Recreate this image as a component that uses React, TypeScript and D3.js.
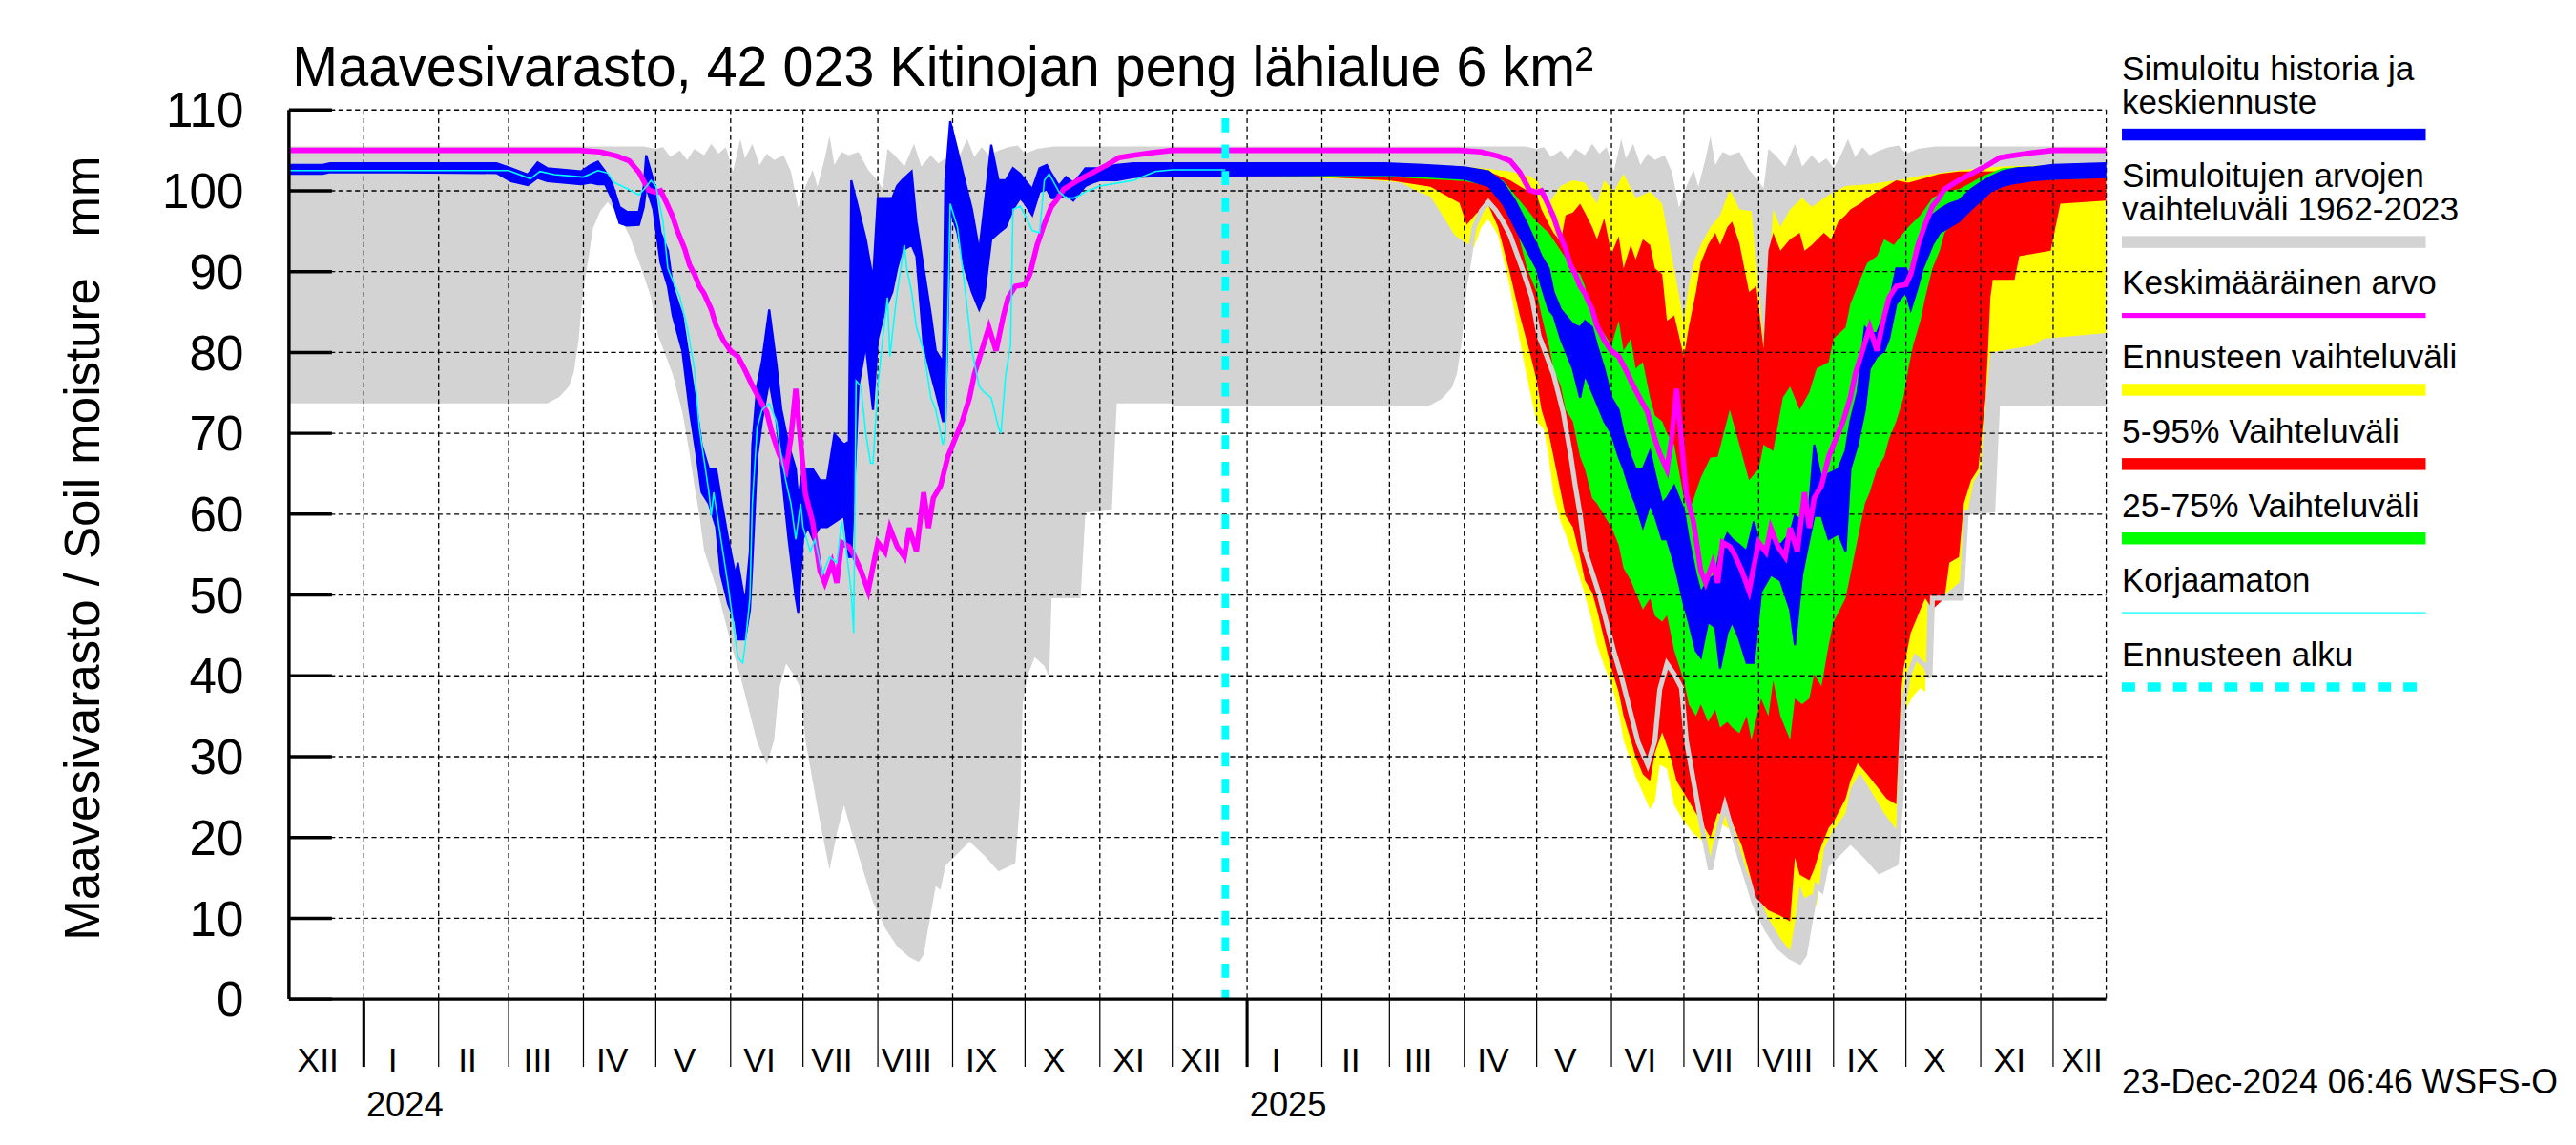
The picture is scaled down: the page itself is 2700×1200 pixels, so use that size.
import React from "react";
import * as d3 from "d3";

type P = [string, number];
type B = [string, number, number];

// ---------------- DATA ----------------
const DOMAIN_START = "2023-12-01";
const DOMAIN_END = "2025-12-23";
const FORECAST_START = "2024-12-23";

const yTicks = [0, 10, 20, 30, 40, 50, 60, 70, 80, 90, 100, 110];
const monthNames = ["I", "II", "III", "IV", "V", "VI", "VII", "VIII", "IX", "X", "XI", "XII"];
const yearLabels: [string, number][] = [["2024", 2024], ["2025", 2025]];

const titleText = "Maavesivarasto, 42 023 Kitinojan peng lähialue 6 km²";
const yAxisText = "Maavesivarasto / Soil moisture   mm";
const footerText = "23-Dec-2024 06:46 WSFS-O";

// Climatology 1962-2023 (day of year, MM-DD)
const climMax: P[] = [
  ["01-01", 105.5], ["04-26", 105.5], ["05-01", 105.2], ["05-04", 105.4], ["05-07", 104.2], ["05-11", 105.0],
  ["05-14", 103.8], ["05-17", 105.2], ["05-21", 104.4], ["05-24", 105.8], ["05-27", 104.6], ["05-30", 105.4],
  ["06-02", 102.4], ["06-05", 106.4], ["06-07", 104.0], ["06-10", 105.8], ["06-13", 103.2], ["06-16", 104.6],
  ["06-19", 103.8], ["06-23", 104.4], ["06-26", 102.4], ["06-29", 97.9], ["07-02", 100.5], ["07-05", 102.6],
  ["07-07", 100.5], ["07-10", 104.0], ["07-12", 106.8], ["07-14", 103.2], ["07-17", 104.8], ["07-20", 104.4],
  ["07-24", 104.8], ["07-28", 102.6], ["07-31", 101.6], ["08-03", 100.3], ["08-05", 105.2], ["08-08", 104.4],
  ["08-12", 103.0], ["08-16", 105.8], ["08-19", 103.0], ["08-23", 104.4], ["08-26", 103.4], ["08-29", 104.0],
  ["09-01", 102.8], ["09-04", 104.4], ["09-07", 106.4], ["09-10", 104.2], ["09-13", 105.4], ["09-16", 104.4],
  ["09-20", 105.0], ["09-24", 105.4], ["09-28", 105.6], ["10-01", 104.6], ["10-06", 105.2], ["10-13", 105.5],
  ["12-01", 105.5], ["12-31", 105.5],
];

const climMin: P[] = [
  ["01-01", 73.7], ["03-17", 73.7], ["03-22", 74.5], ["03-26", 75.8], ["03-28", 77.5], ["03-30", 81.5],
  ["04-01", 88.0], ["04-03", 91.5], ["04-05", 95.4], ["04-08", 97.5], ["04-11", 98.6], ["04-14", 97.6],
  ["04-17", 96.2], ["04-20", 94.5], ["04-25", 90.4], ["04-29", 86.8], ["05-02", 82.0], ["05-04", 80.5],
  ["05-08", 77.3], ["05-12", 72.6], ["05-15", 67.5], ["05-17", 63.5], ["05-19", 60.0], ["05-21", 55.5],
  ["05-24", 52.8], ["05-27", 50.0], ["05-30", 46.5], ["06-02", 43.0], ["06-05", 40.0], ["06-08", 36.5],
  ["06-12", 31.8], ["06-16", 29.0], ["06-19", 32.0], ["06-21", 38.3], ["06-24", 41.5], ["06-27", 40.2],
  ["06-30", 38.5], ["07-02", 32.0], ["07-05", 27.0], ["07-08", 22.0], ["07-12", 16.0], ["07-15", 20.5],
  ["07-18", 24.0], ["07-21", 20.8], ["07-25", 16.8], ["07-30", 12.0], ["08-04", 8.8], ["08-09", 6.5],
  ["08-14", 5.2], ["08-18", 4.6], ["08-20", 5.5], ["08-22", 9.0], ["08-25", 14.0], ["08-27", 13.5],
  ["08-29", 16.5], ["09-03", 18.0], ["09-08", 19.5], ["09-14", 17.8], ["09-20", 15.8], ["09-27", 16.8],
  ["09-29", 24.8], ["09-30", 36.5], ["10-02", 40.0], ["10-05", 42.3], ["10-09", 41.2], ["10-11", 39.8],
  ["10-12", 49.6], ["10-24", 49.6], ["10-26", 60.2], ["11-06", 60.5], ["11-08", 73.7], ["12-01", 73.7],
  ["12-31", 73.7],
];

const climMean: P[] = [
  ["01-01", 105.0], ["03-30", 105.0], ["04-08", 104.8], ["04-15", 104.3], ["04-20", 103.7], ["04-24", 102.3],
  ["04-28", 100.1], ["05-01", 99.8], ["05-03", 100.0], ["05-05", 98.8], ["05-08", 96.8], ["05-10", 95.0],
  ["05-13", 92.8], ["05-15", 90.8], ["05-17", 89.7], ["05-19", 88.2], ["05-21", 87.3], ["05-24", 85.3],
  ["05-26", 83.3], ["05-29", 81.5], ["06-01", 80.2], ["06-04", 79.5], ["06-07", 77.8], ["06-10", 75.9],
  ["06-13", 74.2], ["06-16", 72.6], ["06-18", 70.2], ["06-21", 67.5], ["06-24", 65.5], ["06-26", 69.5],
  ["06-28", 75.5], ["06-30", 69.0], ["07-02", 62.5], ["07-05", 59.0], ["07-08", 53.0], ["07-10", 51.5],
  ["07-13", 54.0], ["07-15", 51.5], ["07-17", 56.5], ["07-20", 56.0], ["07-22", 55.0], ["07-25", 53.0],
  ["07-28", 50.5], ["08-01", 56.5], ["08-04", 55.3], ["08-06", 58.3], ["08-09", 56.0], ["08-12", 54.7],
  ["08-14", 58.3], ["08-17", 55.4], ["08-20", 62.7], ["08-22", 58.3], ["08-24", 62.0], ["08-27", 63.5],
  ["08-30", 67.1], ["09-02", 69.3], ["09-05", 71.5], ["09-08", 74.4], ["09-10", 77.3], ["09-13", 80.2],
  ["09-16", 83.1], ["09-19", 80.2], ["09-22", 84.5], ["09-24", 86.8], ["09-27", 88.2], ["10-01", 88.4],
  ["10-03", 89.7], ["10-06", 93.3], ["10-09", 95.9], ["10-12", 98.1], ["10-14", 98.8], ["10-17", 100.2],
  ["10-23", 101.3], ["10-28", 102.1], ["11-04", 103.2], ["11-09", 104.1], ["11-15", 104.4], ["11-22", 104.7],
  ["12-01", 105.0], ["12-31", 105.0],
];

// Simulated history (blue band: low, high)
const histBlue: B[] = [
  ["2023-12-01", 102.1, 103.2], ["2023-12-15", 102.1, 103.2], ["2023-12-18", 102.3, 103.4], ["2024-01-15", 102.3, 103.4],
  ["2024-02-25", 102.2, 103.4], ["2024-03-02", 101.2, 102.8], ["2024-03-09", 100.7, 102.0], ["2024-03-13", 101.6, 103.5],
  ["2024-03-17", 101.2, 102.8], ["2024-03-31", 100.8, 102.4], ["2024-04-04", 101.0, 103.2], ["2024-04-07", 100.8, 103.6],
  ["2024-04-10", 100.8, 102.4], ["2024-04-13", 98.9, 100.8], ["2024-04-16", 96.0, 98.0], ["2024-04-19", 95.7, 97.4],
  ["2024-04-24", 95.8, 97.4], ["2024-04-26", 98.0, 100.5], ["2024-04-27", 100.5, 104.4], ["2024-04-30", 97.7, 101.3],
  ["2024-05-03", 91.1, 94.8], ["2024-05-06", 88.2, 92.6], ["2024-05-08", 84.6, 88.2], ["2024-05-12", 80.2, 84.6],
  ["2024-05-15", 72.9, 78.8], ["2024-05-18", 67.1, 72.9], ["2024-05-20", 62.7, 68.6], ["2024-05-23", 61.3, 65.6],
  ["2024-05-26", 58.4, 65.6], ["2024-05-28", 52.5, 62.0], ["2024-05-31", 48.9, 56.9], ["2024-06-03", 46.7, 52.5],
  ["2024-06-04", 44.5, 54.0], ["2024-06-07", 44.5, 48.9], ["2024-06-09", 48.2, 55.4], ["2024-06-10", 54.0, 68.6],
  ["2024-06-12", 67.1, 75.8], ["2024-06-14", 71.5, 78.8], ["2024-06-17", 76.5, 85.3], ["2024-06-20", 71.5, 78.5],
  ["2024-06-22", 65.6, 73.0], ["2024-06-25", 57.0, 68.6], ["2024-06-28", 49.6, 65.6], ["2024-06-29", 47.8, 62.0],
  ["2024-07-01", 57.0, 65.6], ["2024-07-03", 58.4, 65.6], ["2024-07-05", 57.0, 65.6], ["2024-07-08", 58.4, 64.2],
  ["2024-07-11", 58.4, 64.2], ["2024-07-14", 59.0, 69.9], ["2024-07-18", 59.8, 68.6], ["2024-07-20", 54.7, 69.0],
  ["2024-07-21", 54.7, 101.3], ["2024-07-24", 75.8, 97.7], ["2024-07-27", 80.9, 94.0], ["2024-07-30", 72.9, 89.0],
  ["2024-08-01", 81.7, 99.1], ["2024-08-04", 85.3, 99.1], ["2024-08-07", 87.5, 99.1], ["2024-08-09", 90.4, 100.6],
  ["2024-08-11", 92.6, 101.3], ["2024-08-15", 93.3, 102.4], ["2024-08-17", 91.9, 96.2], ["2024-08-20", 80.9, 90.4],
  ["2024-08-23", 77.3, 84.6], ["2024-08-25", 75.1, 80.2], ["2024-08-28", 71.5, 78.8], ["2024-08-29", 71.5, 101.3],
  ["2024-08-31", 97.7, 108.6], ["2024-09-03", 94.8, 105.0], ["2024-09-06", 90.4, 101.3], ["2024-09-09", 87.5, 97.7],
  ["2024-09-12", 85.3, 92.6], ["2024-09-14", 86.8, 97.7], ["2024-09-17", 94.0, 105.7], ["2024-09-20", 94.8, 101.3],
  ["2024-09-23", 95.5, 101.3], ["2024-09-26", 97.7, 102.8], ["2024-09-29", 99.1, 102.1], ["2024-10-01", 98.4, 101.3],
  ["2024-10-04", 97.0, 100.2], ["2024-10-07", 99.9, 102.8], ["2024-10-10", 100.2, 103.2], ["2024-10-12", 99.1, 102.1],
  ["2024-10-15", 99.1, 100.6], ["2024-10-18", 99.5, 101.7], ["2024-10-21", 98.8, 101.0], ["2024-10-24", 99.9, 102.0],
  ["2024-10-26", 100.6, 102.8], ["2024-10-29", 101.0, 102.8], ["2024-11-01", 101.3, 102.8], ["2024-11-08", 101.3, 103.2],
  ["2024-11-15", 101.7, 103.4], ["2024-12-01", 101.9, 103.4], ["2024-12-23", 101.9, 103.4],
];

// Uncorrected (Korjaamaton)
const histRaw: P[] = [
  ["2023-12-01", 102.5], ["2024-03-01", 102.5], ["2024-03-10", 101.5], ["2024-03-14", 102.4], ["2024-03-20", 102.0],
  ["2024-04-01", 101.7], ["2024-04-07", 102.5], ["2024-04-11", 102.2], ["2024-04-14", 101.0], ["2024-04-19", 100.3],
  ["2024-04-24", 99.5], ["2024-04-27", 100.5], ["2024-04-29", 101.3], ["2024-05-01", 100.6], ["2024-05-04", 96.2],
  ["2024-05-06", 90.4], ["2024-05-08", 88.9], ["2024-05-11", 86.8], ["2024-05-14", 83.1], ["2024-05-17", 78.0],
  ["2024-05-19", 70.7], ["2024-05-23", 62.7], ["2024-05-24", 59.8], ["2024-05-25", 62.7], ["2024-05-28", 56.9],
  ["2024-05-31", 51.1], ["2024-06-02", 46.7], ["2024-06-04", 42.3], ["2024-06-06", 41.6], ["2024-06-07", 43.8],
  ["2024-06-09", 49.6], ["2024-06-10", 61.3], ["2024-06-12", 70.7], ["2024-06-14", 72.9], ["2024-06-17", 73.7],
  ["2024-06-20", 71.5], ["2024-06-22", 67.1], ["2024-06-24", 64.0], ["2024-06-26", 61.3], ["2024-06-28", 56.9],
  ["2024-06-30", 61.3], ["2024-07-01", 58.4], ["2024-07-04", 55.4], ["2024-07-06", 56.9], ["2024-07-09", 52.5],
  ["2024-07-12", 54.7], ["2024-07-15", 54.0], ["2024-07-17", 59.1], ["2024-07-19", 55.4], ["2024-07-21", 50.3],
  ["2024-07-22", 45.3], ["2024-07-23", 76.5], ["2024-07-25", 75.8], ["2024-07-27", 70.0], ["2024-07-29", 66.3],
  ["2024-07-30", 66.3], ["2024-08-01", 75.8], ["2024-08-03", 81.7], ["2024-08-05", 86.8], ["2024-08-06", 79.5],
  ["2024-08-09", 87.5], ["2024-08-12", 93.3], ["2024-08-13", 90.4], ["2024-08-15", 87.5], ["2024-08-17", 83.1],
  ["2024-08-20", 80.2], ["2024-08-23", 74.4], ["2024-08-25", 72.9], ["2024-08-28", 68.6], ["2024-08-29", 70.0],
  ["2024-08-31", 98.4], ["2024-09-03", 95.5], ["2024-09-06", 88.2], ["2024-09-09", 80.2], ["2024-09-12", 75.8],
  ["2024-09-14", 75.1], ["2024-09-17", 74.4], ["2024-09-20", 70.7], ["2024-09-21", 70.0], ["2024-09-23", 77.3],
  ["2024-09-25", 80.9], ["2024-09-26", 97.7], ["2024-09-29", 98.1], ["2024-10-01", 97.0], ["2024-10-04", 95.1],
  ["2024-10-07", 94.8], ["2024-10-09", 101.3], ["2024-10-11", 102.1], ["2024-10-15", 99.9], ["2024-10-18", 99.1],
  ["2024-10-21", 99.1], ["2024-10-24", 99.5], ["2024-10-26", 99.9], ["2024-10-29", 100.2], ["2024-11-01", 100.6],
  ["2024-11-15", 101.3], ["2024-11-24", 102.4], ["2024-12-01", 102.6], ["2024-12-23", 102.6],
];

// Forecast: mean forecast band (low, high)
const fcBlue: B[] = [
  ["2024-12-23", 101.9, 103.4], ["2025-02-27", 102.0, 103.4], ["2025-03-15", 101.8, 103.2], ["2025-04-01", 101.5, 102.9],
  ["2025-04-11", 100.6, 102.4], ["2025-04-17", 98.4, 101.0], ["2025-04-22", 95.5, 98.8], ["2025-04-27", 92.6, 95.9],
  ["2025-05-01", 90.4, 93.3], ["2025-05-03", 88.2, 91.9], ["2025-05-06", 85.3, 90.4], ["2025-05-08", 84.6, 87.5],
  ["2025-05-11", 81.7, 85.3], ["2025-05-13", 80.2, 84.6], ["2025-05-16", 78.0, 83.5], ["2025-05-19", 74.4, 83.1],
  ["2025-05-21", 77.3, 83.9], ["2025-05-24", 75.1, 83.1], ["2025-05-26", 73.7, 80.9], ["2025-05-29", 71.5, 78.0],
  ["2025-06-01", 70.0, 74.4], ["2025-06-04", 67.1, 72.9], ["2025-06-06", 65.6, 70.0], ["2025-06-09", 62.7, 67.1],
  ["2025-06-11", 61.3, 65.6], ["2025-06-14", 58.4, 65.6], ["2025-06-17", 61.3, 67.8], ["2025-06-19", 59.8, 65.0],
  ["2025-06-22", 56.9, 61.3], ["2025-06-24", 56.9, 62.0], ["2025-06-27", 54.0, 63.5], ["2025-07-01", 48.9, 60.5],
  ["2025-07-03", 46.7, 56.9], ["2025-07-06", 43.1, 52.5], ["2025-07-08", 42.3, 50.3], ["2025-07-11", 46.7, 51.8],
  ["2025-07-14", 46.0, 52.5], ["2025-07-16", 40.9, 55.4], ["2025-07-19", 45.3, 57.6], ["2025-07-21", 46.7, 56.9],
  ["2025-07-24", 44.5, 56.2], ["2025-07-27", 41.6, 55.4], ["2025-07-30", 41.6, 59.1], ["2025-08-02", 50.4, 55.4],
  ["2025-08-06", 52.5, 56.9], ["2025-08-10", 51.8, 56.2], ["2025-08-14", 48.2, 57.6], ["2025-08-16", 43.8, 59.8],
  ["2025-08-19", 52.5, 59.1], ["2025-08-22", 56.9, 61.3], ["2025-08-24", 59.8, 68.6], ["2025-08-27", 59.8, 64.2],
  ["2025-08-30", 56.9, 65.0], ["2025-09-03", 57.6, 65.6], ["2025-09-06", 55.4, 67.8], ["2025-09-08", 65.6, 71.5],
  ["2025-09-11", 68.6, 75.1], ["2025-09-14", 72.9, 83.1], ["2025-09-16", 78.0, 82.4], ["2025-09-19", 79.5, 82.4],
  ["2025-09-22", 80.2, 84.6], ["2025-09-24", 81.7, 86.0], ["2025-09-27", 86.0, 90.4], ["2025-10-01", 87.5, 90.4],
  ["2025-10-03", 85.3, 89.0], ["2025-10-06", 88.2, 92.6], ["2025-10-08", 90.4, 94.8], ["2025-10-12", 93.3, 97.0],
  ["2025-10-15", 94.8, 97.7], ["2025-10-19", 95.5, 98.4], ["2025-10-23", 96.2, 98.8], ["2025-10-28", 97.7, 100.2],
  ["2025-11-01", 98.8, 101.0], ["2025-11-05", 99.9, 101.7], ["2025-11-10", 100.6, 102.4], ["2025-11-16", 101.0, 102.8],
  ["2025-11-23", 101.3, 102.9], ["2025-12-01", 101.5, 103.2], ["2025-12-23", 101.7, 103.4],
];

// Forecast range (min / max)
const fcYellowHi: P[] = [
  ["2024-12-23", 103.4], ["2025-03-01", 103.4], ["2025-04-01", 103.0], ["2025-04-11", 102.7], ["2025-04-20", 102.4],
  ["2025-04-28", 101.8], ["2025-05-01", 101.3], ["2025-05-06", 98.4], ["2025-05-11", 100.6], ["2025-05-16", 101.3],
  ["2025-05-21", 101.0], ["2025-05-26", 98.4], ["2025-05-29", 101.3], ["2025-06-02", 99.9], ["2025-06-06", 102.1],
  ["2025-06-11", 99.1], ["2025-06-17", 99.9], ["2025-06-22", 98.4], ["2025-06-26", 91.9], ["2025-06-29", 87.0],
  ["2025-07-01", 83.9], ["2025-07-03", 88.2], ["2025-07-05", 91.1], ["2025-07-08", 93.3], ["2025-07-12", 95.5],
  ["2025-07-16", 97.0], ["2025-07-20", 100.2], ["2025-07-24", 97.7], ["2025-07-29", 97.5], ["2025-08-01", 88.0],
  ["2025-08-03", 81.0], ["2025-08-05", 89.0], ["2025-08-07", 97.7], ["2025-08-10", 95.5], ["2025-08-14", 97.7],
  ["2025-08-19", 99.1], ["2025-08-23", 98.0], ["2025-08-30", 99.5], ["2025-09-06", 100.6], ["2025-09-15", 100.8],
  ["2025-09-27", 101.3], ["2025-10-10", 102.0], ["2025-10-25", 102.6], ["2025-11-10", 103.0], ["2025-12-23", 103.4],
];
const fcYellowLo: P[] = [
  ["2024-12-23", 101.9], ["2025-01-20", 101.7], ["2025-02-20", 101.4], ["2025-03-06", 101.0], ["2025-03-12", 100.0],
  ["2025-03-18", 99.3], ["2025-03-24", 96.5], ["2025-03-28", 94.5], ["2025-04-02", 93.5], ["2025-04-05", 93.0],
  ["2025-04-08", 95.5], ["2025-04-11", 96.5], ["2025-04-15", 94.5], ["2025-04-20", 88.0], ["2025-04-24", 81.5],
  ["2025-04-28", 75.5], ["2025-05-01", 71.5], ["2025-05-04", 70.5], ["2025-05-06", 67.0], ["2025-05-08", 62.5],
  ["2025-05-11", 59.0], ["2025-05-13", 57.5], ["2025-05-16", 55.0], ["2025-05-19", 52.0], ["2025-05-21", 50.0],
  ["2025-05-24", 46.7], ["2025-05-26", 43.8], ["2025-05-29", 41.2], ["2025-06-01", 39.0], ["2025-06-04", 35.5],
  ["2025-06-06", 32.0], ["2025-06-09", 29.5], ["2025-06-11", 27.5], ["2025-06-14", 25.5], ["2025-06-17", 23.5],
  ["2025-06-19", 24.5], ["2025-06-21", 29.0], ["2025-06-24", 28.5], ["2025-06-27", 24.0], ["2025-07-01", 22.0],
  ["2025-07-05", 20.5], ["2025-07-09", 19.5], ["2025-07-12", 16.0], ["2025-07-15", 22.0], ["2025-07-20", 21.0],
  ["2025-07-25", 17.0], ["2025-07-31", 13.5], ["2025-08-05", 10.0], ["2025-08-10", 7.5], ["2025-08-14", 6.0],
  ["2025-08-16", 9.5], ["2025-08-18", 14.0], ["2025-08-20", 12.5], ["2025-08-23", 13.0], ["2025-08-25", 11.5],
  ["2025-08-28", 18.5], ["2025-08-31", 20.5], ["2025-09-06", 23.0], ["2025-09-08", 26.0], ["2025-09-12", 28.0],
  ["2025-09-16", 26.0], ["2025-09-22", 23.0], ["2025-09-27", 21.0], ["2025-09-28", 34.5], ["2025-10-01", 36.0],
  ["2025-10-04", 37.5], ["2025-10-07", 38.5], ["2025-10-09", 38.0], ["2025-10-10", 49.0], ["2025-10-15", 49.3],
  ["2025-10-19", 50.5], ["2025-10-23", 51.5], ["2025-10-25", 52.5], ["2025-10-27", 61.0], ["2025-10-29", 64.0],
  ["2025-11-01", 65.5], ["2025-11-03", 74.0], ["2025-11-05", 80.0], ["2025-11-23", 80.9], ["2025-11-27", 81.7],
  ["2025-12-23", 82.4],
];

// 5-95 %
const fcRedHi: P[] = [
  ["2024-12-23", 103.4], ["2025-04-01", 102.9], ["2025-04-11", 102.4], ["2025-04-20", 101.3], ["2025-04-26", 100.2],
  ["2025-05-01", 99.5], ["2025-05-03", 97.7], ["2025-05-06", 95.9], ["2025-05-08", 94.8], ["2025-05-11", 93.7],
  ["2025-05-13", 97.0], ["2025-05-16", 97.3], ["2025-05-19", 98.4], ["2025-05-21", 97.3], ["2025-05-24", 95.5],
  ["2025-05-26", 94.0], ["2025-05-29", 96.6], ["2025-06-01", 92.2], ["2025-06-04", 94.4], ["2025-06-06", 90.4],
  ["2025-06-09", 93.3], ["2025-06-11", 91.5], ["2025-06-14", 94.0], ["2025-06-17", 93.3], ["2025-06-19", 90.4],
  ["2025-06-22", 89.7], ["2025-06-24", 83.9], ["2025-06-27", 84.6], ["2025-07-01", 79.5], ["2025-07-03", 83.1],
  ["2025-07-06", 87.5], ["2025-07-08", 91.1], ["2025-07-11", 93.3], ["2025-07-14", 94.8], ["2025-07-16", 93.3],
  ["2025-07-19", 95.5], ["2025-07-21", 96.2], ["2025-07-24", 93.5], ["2025-07-28", 87.5], ["2025-07-31", 88.2],
  ["2025-08-03", 80.5], ["2025-08-05", 92.6], ["2025-08-07", 94.8], ["2025-08-10", 92.6], ["2025-08-14", 94.0],
  ["2025-08-18", 94.8], ["2025-08-20", 92.6], ["2025-08-23", 93.3], ["2025-08-28", 94.8], ["2025-08-31", 94.0],
  ["2025-09-03", 96.2], ["2025-09-06", 97.0], ["2025-09-08", 97.7], ["2025-09-12", 98.4], ["2025-09-15", 99.1],
  ["2025-09-19", 99.9], ["2025-09-23", 100.6], ["2025-09-27", 101.3], ["2025-10-02", 101.0], ["2025-10-08", 101.5],
  ["2025-10-15", 102.1], ["2025-10-23", 102.4], ["2025-11-01", 102.4], ["2025-12-23", 102.6],
];
const fcRedLo: P[] = [
  ["2024-12-23", 101.9], ["2025-02-01", 101.7], ["2025-03-01", 101.3], ["2025-03-18", 100.5], ["2025-03-30", 98.5],
  ["2025-04-02", 95.8], ["2025-04-06", 97.2], ["2025-04-11", 98.2], ["2025-04-15", 95.5], ["2025-04-20", 89.7],
  ["2025-04-24", 84.6], ["2025-04-28", 80.2], ["2025-05-01", 76.6], ["2025-05-03", 72.9], ["2025-05-06", 70.0],
  ["2025-05-08", 67.1], ["2025-05-11", 62.7], ["2025-05-13", 59.8], ["2025-05-16", 58.4], ["2025-05-19", 54.7],
  ["2025-05-21", 51.8], ["2025-05-24", 50.3], ["2025-05-26", 48.2], ["2025-05-29", 44.5], ["2025-06-01", 40.9],
  ["2025-06-04", 38.0], ["2025-06-06", 35.0], ["2025-06-09", 32.1], ["2025-06-11", 30.0], ["2025-06-14", 27.8],
  ["2025-06-17", 27.0], ["2025-06-19", 30.5], ["2025-06-22", 33.0], ["2025-06-25", 30.5], ["2025-06-28", 27.0],
  ["2025-07-01", 25.5], ["2025-07-04", 24.0], ["2025-07-08", 22.0], ["2025-07-12", 20.0], ["2025-07-15", 23.0],
  ["2025-07-20", 22.6], ["2025-07-25", 19.0], ["2025-07-31", 12.5], ["2025-08-05", 11.0], ["2025-08-10", 10.3],
  ["2025-08-14", 9.6], ["2025-08-16", 17.5], ["2025-08-18", 15.4], ["2025-08-22", 14.7], ["2025-08-24", 16.1],
  ["2025-08-27", 19.0], ["2025-08-30", 21.2], ["2025-09-01", 21.9], ["2025-09-06", 24.8], ["2025-09-08", 27.0],
  ["2025-09-11", 29.2], ["2025-09-15", 27.8], ["2025-09-19", 26.3], ["2025-09-23", 24.8], ["2025-09-27", 24.1],
  ["2025-09-29", 38.0], ["2025-09-30", 40.9], ["2025-10-03", 45.3], ["2025-10-07", 48.2], ["2025-10-09", 49.6],
  ["2025-10-12", 48.2], ["2025-10-17", 49.6], ["2025-10-19", 54.0], ["2025-10-23", 54.7], ["2025-10-25", 61.3],
  ["2025-10-28", 64.2], ["2025-10-31", 65.6], ["2025-11-03", 74.4], ["2025-11-04", 80.2], ["2025-11-05", 86.8],
  ["2025-11-06", 89.0], ["2025-11-15", 89.0], ["2025-11-17", 91.9], ["2025-11-30", 92.6], ["2025-12-02", 95.5],
  ["2025-12-04", 98.4], ["2025-12-23", 98.8],
];

// 25-75 %
const fcGreenHi: P[] = [
  ["2024-12-23", 103.4], ["2025-04-01", 102.9], ["2025-04-17", 101.3], ["2025-04-22", 99.5], ["2025-04-27", 97.7],
  ["2025-05-01", 96.2], ["2025-05-06", 94.8], ["2025-05-11", 92.6], ["2025-05-16", 90.4], ["2025-05-19", 89.7],
  ["2025-05-21", 88.2], ["2025-05-24", 84.6], ["2025-05-29", 82.3], ["2025-06-01", 80.9], ["2025-06-04", 83.9],
  ["2025-06-06", 80.2], ["2025-06-09", 81.7], ["2025-06-11", 78.0], ["2025-06-14", 78.8], ["2025-06-17", 74.4],
  ["2025-06-19", 72.2], ["2025-06-22", 71.5], ["2025-06-24", 70.0], ["2025-06-27", 68.6], ["2025-07-01", 62.0],
  ["2025-07-04", 61.0], ["2025-07-08", 64.5], ["2025-07-12", 67.0], ["2025-07-15", 67.1], ["2025-07-20", 72.9],
  ["2025-07-24", 68.6], ["2025-07-28", 64.2], ["2025-08-01", 65.6], ["2025-08-03", 68.6], ["2025-08-07", 67.8],
  ["2025-08-11", 74.4], ["2025-08-14", 75.8], ["2025-08-18", 72.9], ["2025-08-22", 75.1], ["2025-08-25", 78.0],
  ["2025-08-30", 78.8], ["2025-09-01", 81.7], ["2025-09-06", 83.1], ["2025-09-08", 86.0], ["2025-09-12", 89.0],
  ["2025-09-15", 91.1], ["2025-09-19", 91.9], ["2025-09-22", 94.0], ["2025-09-26", 93.3], ["2025-09-30", 94.8],
  ["2025-10-02", 95.5], ["2025-10-07", 97.0], ["2025-10-12", 99.1], ["2025-10-17", 99.9], ["2025-10-23", 100.2],
  ["2025-10-28", 101.0], ["2025-11-01", 101.7], ["2025-11-10", 102.8], ["2025-11-23", 103.0], ["2025-12-23", 103.2],
];
const fcGreenLo: P[] = [
  ["2024-12-23", 101.9], ["2025-03-01", 101.7], ["2025-04-01", 101.2], ["2025-04-11", 100.6], ["2025-04-17", 99.9],
  ["2025-04-22", 96.2], ["2025-04-27", 90.4], ["2025-05-01", 87.5], ["2025-05-03", 84.6], ["2025-05-06", 80.9],
  ["2025-05-08", 78.0], ["2025-05-11", 75.8], ["2025-05-13", 72.9], ["2025-05-16", 71.5], ["2025-05-19", 67.1],
  ["2025-05-21", 65.6], ["2025-05-24", 62.0], ["2025-05-26", 61.3], ["2025-05-29", 59.8], ["2025-06-01", 58.4],
  ["2025-06-04", 56.2], ["2025-06-06", 53.3], ["2025-06-09", 51.8], ["2025-06-11", 50.3], ["2025-06-14", 48.2],
  ["2025-06-17", 49.6], ["2025-06-19", 47.4], ["2025-06-22", 46.7], ["2025-06-24", 47.5], ["2025-06-27", 43.1],
  ["2025-07-01", 39.4], ["2025-07-03", 36.5], ["2025-07-06", 35.0], ["2025-07-08", 36.5], ["2025-07-11", 34.3],
  ["2025-07-14", 35.8], ["2025-07-16", 33.6], ["2025-07-19", 34.3], ["2025-07-21", 33.6], ["2025-07-24", 32.9],
  ["2025-07-27", 35.0], ["2025-07-29", 32.1], ["2025-08-02", 37.2], ["2025-08-05", 35.0], ["2025-08-07", 39.4],
  ["2025-08-10", 35.0], ["2025-08-14", 32.1], ["2025-08-16", 37.2], ["2025-08-19", 36.5], ["2025-08-22", 37.2],
  ["2025-08-24", 40.2], ["2025-08-27", 38.7], ["2025-08-30", 43.8], ["2025-09-01", 46.7], ["2025-09-06", 49.6],
  ["2025-09-08", 52.5], ["2025-09-11", 56.9], ["2025-09-14", 61.3], ["2025-09-16", 62.7], ["2025-09-19", 65.6],
  ["2025-09-22", 67.1], ["2025-09-24", 69.3], ["2025-09-27", 71.5], ["2025-09-30", 74.4], ["2025-10-02", 78.0],
  ["2025-10-04", 80.9], ["2025-10-07", 83.9], ["2025-10-09", 86.8], ["2025-10-12", 90.4], ["2025-10-15", 92.6],
  ["2025-10-17", 94.8], ["2025-10-21", 96.2], ["2025-10-25", 97.0], ["2025-10-28", 97.7], ["2025-11-01", 99.1],
  ["2025-11-05", 99.9], ["2025-11-10", 100.6], ["2025-11-23", 101.3], ["2025-12-23", 101.6],
];

const legendLabels: string[][] = [
  ["Simuloitu historia ja", "keskiennuste"],
  ["Simuloitujen arvojen", "vaihteluväli 1962-2023"],
  ["Keskimääräinen arvo"],
  ["Ennusteen vaihteluväli"],
  ["5-95% Vaihteluväli"],
  ["25-75% Vaihteluväli"],
  ["Korjaamaton"],
  ["Ennusteen alku"],
];

// ---------------- RENDER ----------------
const FONT = "'Liberation Sans', Arial, Helvetica, sans-serif";
const COL = {
  grey: "#d3d3d3",
  blue: "#0000ff",
  magenta: "#ff00ff",
  yellow: "#ffff00",
  red: "#ff0000",
  green: "#00ff00",
  cyan: "#00ffff",
};

const parseD = (s: string) => {
  const [yy, mm, dd] = s.split("-").map(Number);
  return new Date(yy, mm - 1, dd);
};

function expandClim(arr: P[]): [Date, number][] {
  const out: [Date, number][] = [];
  for (const yr of [2023, 2024, 2025]) {
    for (const [md, v] of arr) {
      const [m, d] = md.split("-").map(Number);
      const dt = new Date(yr, m - 1, d);
      if (dt >= new Date(2023, 10, 1)) out.push([dt, v]);
    }
  }
  return out;
}

export default function App() {
  const VB_W = 1560;
  const VB_H = 693.33;
  const L = 175, R = 1275.5, T = 66.6, Bt = 605;

  const x = d3.scaleTime().domain([parseD(DOMAIN_START), parseD(DOMAIN_END)]).range([L, R]);
  const y = d3.scaleLinear().domain([0, 110]).range([Bt, T]);

  const toXY = (arr: [Date, number][]) => arr.map(([d, v]) => [x(d), y(v)] as [number, number]);
  const pl = d3.line<[number, number]>();
  const linePath = (arr: [Date, number][]) => pl(toXY(arr)) || "";
  const bandPath = (hi: [Date, number][], lo: [Date, number][]) =>
    (pl([...toXY(hi), ...toXY(lo).reverse()]) || "") + "Z";
  const pd = (a: P[]) => a.map(([s, v]) => [parseD(s), v] as [Date, number]);
  const areaGen = d3
    .area<[Date, number, number]>()
    .x((d) => x(d[0]))
    .y0((d) => y(d[1]))
    .y1((d) => y(d[2]));
  const pb = (a: B[]) => a.map(([s, lo, hi]) => [parseD(s), lo, hi] as [Date, number, number]);

  const cMax = expandClim(climMax);
  const cMin = expandClim(climMin);
  const cMean = expandClim(climMean);
  const fStart = parseD(FORECAST_START);
  const cMinFc = cMin.filter(([d]) => d >= new Date(2024, 11, 1));

  const months = d3.timeMonth.range(parseD(DOMAIN_START), parseD(DOMAIN_END));
  const gridMonths = months.slice(1);

  const legendX = 1285, legendW = 184;
  const symY = [81.5, 146.5, 191, 236, 281, 326, 371, 416];
  const textW = [[177, 118], [183, 204], [190.5], [203], [168], [180], [114], [140]];

  return (
    <svg
      width={2700}
      height={1200}
      viewBox={`0 0 ${VB_W} ${VB_H}`}
      style={{ position: "absolute", left: 0, top: 0, display: "block", background: "#fff" }}
      fontFamily={FONT}
    >
      <rect x={0} y={0} width={VB_W} height={VB_H} fill="#fff" />
      <defs>
        <clipPath id="plotclip">
          <rect x={L} y={y(112)} width={R - L} height={Bt - y(112)} />
        </clipPath>
      </defs>

      <g clipPath="url(#plotclip)">
        <path d={bandPath(cMax, cMin)} fill={COL.grey} />
        <path d={bandPath(pd(fcYellowHi), pd(fcYellowLo))} fill={COL.yellow} />
        <path d={bandPath(pd(fcRedHi), pd(fcRedLo))} fill={COL.red} />
        <path d={bandPath(pd(fcGreenHi), pd(fcGreenLo))} fill={COL.green} />
        <path d={linePath(cMinFc)} fill="none" stroke={COL.grey} strokeWidth={3} />
      </g>

      <g stroke="#000" strokeWidth={0.75} strokeDasharray="3 2" fill="none">
        {yTicks.slice(1).map((v) => (
          <line key={"h" + v} x1={L} x2={R} y1={y(v)} y2={y(v)} />
        ))}
        {gridMonths.map((m, i) => (
          <line key={"v" + i} x1={x(m)} x2={x(m)} y1={T} y2={Bt} />
        ))}
        <line x1={R} x2={R} y1={T} y2={Bt} />
      </g>

      <g clipPath="url(#plotclip)">
        <path d={areaGen(pb(histBlue)) || ""} fill={COL.blue} stroke={COL.blue} strokeWidth={1.3} />
        <path d={areaGen(pb(fcBlue)) || ""} fill={COL.blue} stroke={COL.blue} strokeWidth={1.3} />
        <path d={linePath(cMean)} fill="none" stroke={COL.magenta} strokeWidth={3.2} />
        <path d={linePath(pd(histRaw))} fill="none" stroke={COL.cyan} strokeWidth={0.9} />
      </g>

      <line
        x1={x(fStart)}
        x2={x(fStart)}
        y1={T + 5}
        y2={Bt}
        stroke={COL.cyan}
        strokeWidth={4.5}
        strokeDasharray="8.5 7.5"
      />

      <line x1={L} x2={L} y1={T} y2={Bt} stroke="#000" strokeWidth={2} />
      <line x1={L} x2={R} y1={Bt} y2={Bt} stroke="#000" strokeWidth={2} />
      {yTicks.map((v) => (
        <g key={"t" + v}>
          <line x1={L} x2={L + 26} y1={y(v)} y2={y(v)} stroke="#000" strokeWidth={2} />
          <text x={147.5} y={y(v) + 10.5} textAnchor="end" fontSize={29.5} fill="#000">
            {v}
          </text>
        </g>
      ))}

      {gridMonths.map((m, i) => (
        <line
          key={"mt" + i}
          x1={x(m)}
          x2={x(m)}
          y1={Bt}
          y2={646}
          stroke="#000"
          strokeWidth={m.getMonth() === 0 ? 1.8 : 0.7}
        />
      ))}
      {months.map((m, i) => (
        <text key={"ml" + i} x={x(m) + 17.5} y={649} textAnchor="middle" fontSize={20.5} fill="#000">
          {monthNames[m.getMonth()]}
        </text>
      ))}
      {yearLabels.map(([lab, yr]) => (
        <text key={"y" + lab} x={x(new Date(yr, 0, 1)) + 1.5} y={676} fontSize={21} fill="#000">
          {lab}
        </text>
      ))}

      <text x={177} y={52} fontSize={34} textLength={788} lengthAdjust="spacingAndGlyphs" fill="#000">
        {titleText}
      </text>

      <text
        transform="translate(60,332) rotate(-90)"
        textAnchor="middle"
        fontSize={30}
        textLength={475}
        lengthAdjust="spacingAndGlyphs"
        fill="#000"
        xmlSpace="preserve"
        style={{ whiteSpace: "pre" }}
      >
        {yAxisText}
      </text>

      {legendLabels.map((lines, i) => {
        const sy = symY[i];
        const baseTop = lines.length === 2 ? sy - 33 : sy - 13;
        return (
          <g key={"lg" + i}>
            {lines.map((ln, j) => (
              <text
                key={j}
                x={legendX}
                y={baseTop + j * 20}
                fontSize={20.5}
                textLength={textW[i][j]}
                lengthAdjust="spacingAndGlyphs"
                fill="#000"
              >
                {ln}
              </text>
            ))}
          </g>
        );
      })}
      <rect x={legendX} y={symY[0] - 3.6} width={legendW} height={7.2} fill={COL.blue} />
      <rect x={legendX} y={symY[1] - 3.6} width={legendW} height={7.2} fill={COL.grey} />
      <rect x={legendX} y={symY[2] - 1.5} width={legendW} height={3} fill={COL.magenta} />
      <rect x={legendX} y={symY[3] - 3.6} width={legendW} height={7.2} fill={COL.yellow} />
      <rect x={legendX} y={symY[4] - 3.6} width={legendW} height={7.2} fill={COL.red} />
      <rect x={legendX} y={symY[5] - 3.6} width={legendW} height={7.2} fill={COL.green} />
      <line x1={legendX} x2={legendX + legendW} y1={symY[6]} y2={symY[6]} stroke={COL.cyan} strokeWidth={0.8} />
      <line
        x1={legendX}
        x2={legendX + legendW}
        y1={symY[7]}
        y2={symY[7]}
        stroke={COL.cyan}
        strokeWidth={5.5}
        strokeDasharray="8 7.5"
      />

      <text x={1285} y={662} fontSize={21} textLength={264} lengthAdjust="spacingAndGlyphs" fill="#000">
        {footerText}
      </text>
    </svg>
  );
}
